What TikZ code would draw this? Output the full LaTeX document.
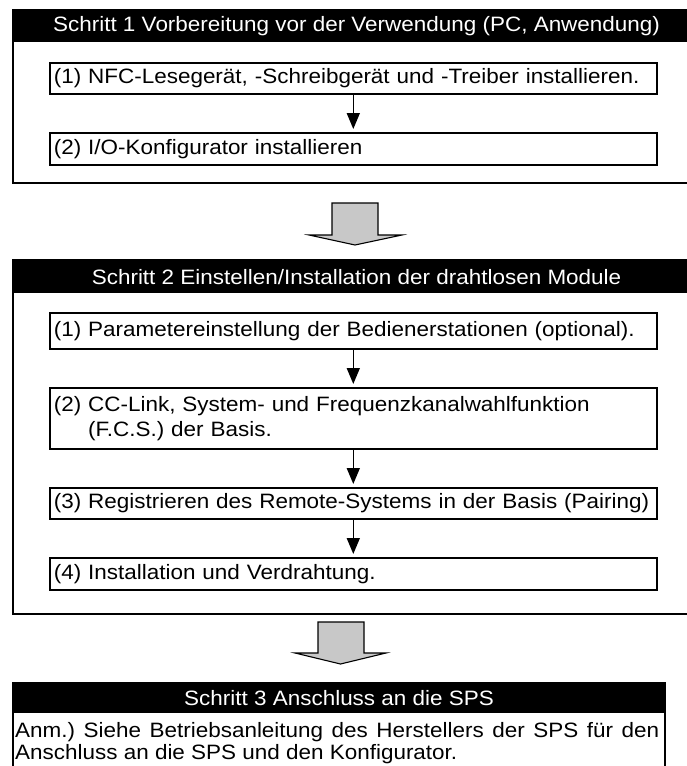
\documentclass[tikz,border=0pt]{standalone}
\usepackage{fontspec}
\setmainfont{Liberation Sans}[FakeStretch=1.08]
\usetikzlibrary{arrows.meta}
\definecolor{arrowgray}{RGB}{200,200,200}

\begin{document}
\frenchspacing
\begin{tikzpicture}[x=1pt,y=-1pt,
  every node/.style={font=\fontsize{20.8}{25}\selectfont},
  frame/.style={draw=black,line width=1.7pt},
  headbar/.style={fill=black,text=white,inner sep=0pt,anchor=north west},
  stepbox/.style={draw=black,line width=1.6pt,anchor=north west,inner xsep=4pt,
    inner ysep=0pt,align=left,text width=599pt,minimum width=607pt},
  flow/.style={-{Triangle[width=13pt,length=16pt]},line width=1.6pt,shorten >=3pt},
  bigarrow/.style={draw=black,line width=1.1pt,fill=arrowgray,line join=miter}]

\useasboundingbox (0,0) rectangle (687,766);
\clip (0,0) rectangle (687,766);

% ---- Schritt 1 ----
\node[headbar,minimum width=687.3pt,minimum height=32pt] (h1) at (12.7,10)
  {Schritt 1 Vorbereitung vor der Verwendung (PC, Anwendung)};
\draw[frame] (12.7,10) rectangle (700,183);
\node[stepbox,minimum height=31pt] (a1) at (49,62)
  {(1) NFC-Lesegerät, -Schreibgerät und -Treiber installieren.};
\node[stepbox,minimum height=32pt] (a2) at (49,132)
  {(2) I/O-Konfigurator installieren};
\draw[flow] (a1.south) -- (a2.north);

% block arrow to step 2
\draw[bigarrow] (332,203) -- (378,203) -- (378,235) -- (402,235) -- (355,245)
  -- (309,235) -- (332,235) -- cycle;

% ---- Schritt 2 ----
\node[headbar,minimum width=687.3pt,minimum height=33pt] (h2) at (12.7,260)
  {Schritt 2 Einstellen/Installation der drahtlosen Module};
\draw[frame] (12.7,260) rectangle (700,614);
\node[stepbox,minimum height=36pt] (b1) at (49,312)
  {(1) Parametereinstellung der Bedienerstationen (optional).};
\node[stepbox,minimum height=61pt] (b2) at (49,387)
  {(2) CC-Link, System- und Frequenzkanalwahlfunktion\\
   \hphantom{(2)}\ (F.C.S.) der Basis.};
\node[stepbox,minimum height=31pt] (b3) at (49,487)
  {(3) Registrieren des Remote-Systems in der Basis (Pairing)};
\node[stepbox,minimum height=32pt] (b4) at (49,557)
  {(4) Installation und Verdrahtung.};
\draw[flow] (b1.south) -- (b2.north);
\draw[flow] (b2.south) -- (b3.north);
\draw[flow] (b3.south) -- (b4.north);

% block arrow to step 3
\draw[bigarrow] (318,622) -- (364,622) -- (364,653) -- (386,653) -- (340.5,664)
  -- (295,653) -- (318,653) -- cycle;

% ---- Schritt 3 ----
\node[headbar,minimum width=652.3pt,minimum height=30pt] (h3) at (12.7,683)
  {Schritt 3 Anschluss an die SPS};
\draw[frame] (12.7,683) rectangle (665,800);
\node[anchor=north west,inner sep=0pt,align=left,
      font=\fontsize{20.8}{22}\selectfont] (note) at (15,722)
  {\makebox[644pt][s]{Anm.) Siehe Betriebsanleitung des Herstellers der SPS für den}\\
   Anschluss an die SPS und den Konfigurator.};
\end{tikzpicture}
\end{document}
